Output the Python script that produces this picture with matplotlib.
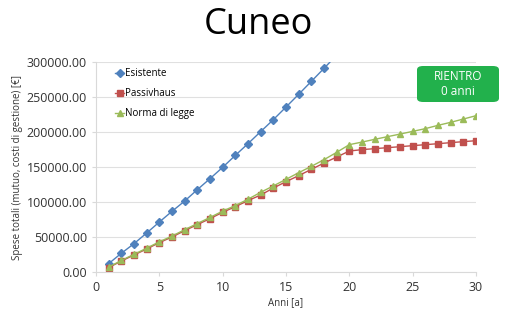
"""Recreate the 'Cuneo' cumulative cost chart (Esistente / Passivhaus / Norma di legge)."""

import matplotlib

matplotlib.use("Agg")
import matplotlib.pyplot as plt
from matplotlib.patches import FancyBboxPatch
from matplotlib.ticker import FuncFormatter

plt.rcParams["font.family"] = ["Open Sans", "DejaVu Sans"]

years = list(range(1, 31))
esistente = [
    12000, 26700, 40500, 55700, 71400, 86700, 101400, 117700, 133400, 149600,
    166700, 183400, 200600, 217700, 235700, 253900, 272400, 291000, 310000, 329000,
    348000, 367000, 386000, 405000, 424000, 443000, 462000, 481000, 500000, 519000,
]
passivhaus = [
    6300, 15700, 24300, 32900, 42000, 50000, 59100, 67700, 76300, 85300,
    93400, 102000, 110000, 120000, 129100, 137700, 146700, 155700, 164300, 172900,
    174900, 176300, 177700, 179100, 180600, 182000, 183400, 184900, 186300, 187700,
]
norma = [
    7000, 16500, 25300, 34000, 43200, 51300, 60500, 69200, 78000, 87000,
    95000, 104000, 113900, 123000, 132400, 141900, 151000, 160500, 171000, 182000,
    185700, 189600, 193400, 197100, 201000, 204900, 209600, 213900, 218600, 223400,
]

fig = plt.figure(figsize=(5.12, 3.10), dpi=100)
ax = fig.add_axes([0.1875, 0.1226, 0.742, 0.677])

ax.plot(years, esistente, color="#4F81BD", marker="D", markersize=3.8,
        linewidth=1.0, label="Esistente")
ax.plot(years, passivhaus, color="#C0504D", marker="s", markersize=4.8,
        linewidth=1.0, label="Passivhaus")
ax.plot(years, norma, color="#9BBB59", marker="^", markersize=5,
        linewidth=1.0, label="Norma di legge")

ax.set_xlim(0, 30)
ax.set_ylim(0, 300000)
ax.set_xticks(range(0, 31, 5))
ax.set_yticks(range(0, 300001, 50000))
ax.yaxis.set_major_formatter(FuncFormatter(lambda v, _: f"{v:.2f}"))
ax.tick_params(axis="both", labelsize=9, colors="#333333", length=3, color="#d9d9d9")
ax.grid(axis="y", color="#e0e0e0", linewidth=0.8)
ax.set_axisbelow(True)
for side in ("top", "right"):
    ax.spines[side].set_visible(False)
for side in ("left", "bottom"):
    ax.spines[side].set_color("#d9d9d9")

ax.set_xlabel("Anni [a]", fontsize=7, color="#333333", labelpad=2)
ax.set_ylabel("Spese totali (mutuo, costi di gestione) [€]", fontsize=7,
              color="#333333", labelpad=3)

ax.legend(loc="upper left", bbox_to_anchor=(0.035, 1.0), frameon=False, fontsize=7,
          handlelength=0.9, handletextpad=0.15, labelspacing=0.95, borderaxespad=0.2)

fig.text(0.504, 0.92, "Cuneo", ha="center", va="center", fontsize=26, color="black")

box = FancyBboxPatch((417 / 512, 1 - 102 / 310), 82 / 512, 36 / 310,
                     boxstyle="round,pad=0,rounding_size=0.012",
                     transform=fig.transFigure, facecolor="#22B14C",
                     edgecolor="none")
fig.patches.append(box)
fig.text(458 / 512, 1 - 84 / 310, "RIENTRO\n0 anni", ha="center", va="center",
         fontsize=8.5, color="white", linespacing=1.2)

fig.savefig("out.png", dpi=100)
